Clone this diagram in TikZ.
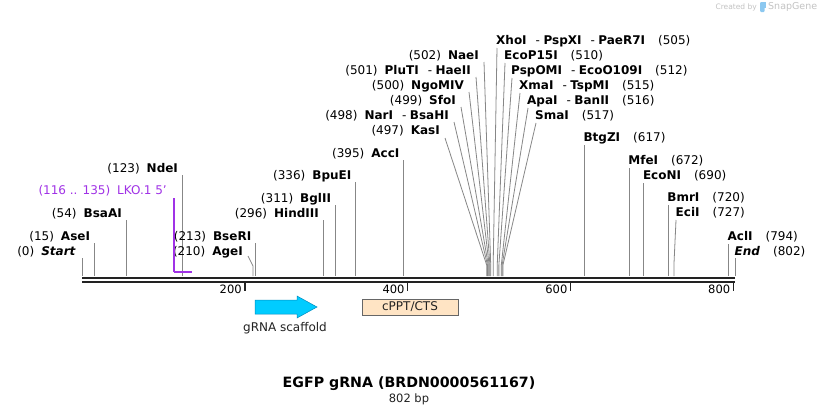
\documentclass[tikz,border=0pt]{standalone}
\usepackage{fontspec}
\setmainfont{DejaVu Sans}
\definecolor{sitegray}{RGB}{135,135,135}
\definecolor{bbone}{RGB}{34,34,34}
\definecolor{lkopurple}{RGB}{160,50,230}
\definecolor{scafcyan}{RGB}{0,204,255}
\definecolor{scafedge}{RGB}{0,140,190}
\definecolor{peach}{RGB}{255,228,196}
\definecolor{wmgray}{RGB}{195,195,195}
\definecolor{wmblue}{RGB}{140,200,240}
\newcommand\lblfont{\fontsize{12}{14}\selectfont}
\newcommand\lsepx{\hspace{9pt}-\hspace{3.5pt}}
\tikzset{
  siteline/.style={draw=sitegray,line width=0.8pt},
  lbl/.style={inner sep=0pt,font=\lblfont,text height=8.8pt,text depth=2.4pt},
  backbone/.style={draw=bbone,line width=2.4pt},
  tickmark/.style={draw=bbone,line width=1.6pt},
  ticklbl/.style={inner sep=0pt,font=\fontsize{11.5}{13}\selectfont,anchor=east}
}
\newcommand\lsite[5]{%
  \pgfmathsetmacro\sx{82+0.8142*#2}
  \coordinate (#1-b) at (\sx,276);
  \coordinate (#1-t) at (\sx,#3+6);
  \draw[siteline] (#1-t) -- (#1-b);
  \node[lbl,anchor=east] (#1-l) at (\sx-4,#3) {(#4)\hspace{7pt}\textbf{#5}};
}
\newcommand\rsite[5]{%
  \pgfmathsetmacro\sx{82+0.8142*#2}
  \coordinate (#1-b) at (\sx,276);
  \coordinate (#1-t) at (\sx,#3+7);
  \draw[siteline] (#1-t) -- (#1-b);
  \node[lbl,anchor=west] (#1-l) at (\sx-1,#3) {\textbf{#5}\hspace{13pt}(#4)};
}
\newcommand\lfan[7]{%
  \pgfmathsetmacro\sx{82+0.8142*#2}
  \coordinate (#1-t) at (#3,#4);
  \coordinate (#1-m) at (\sx,265);
  \coordinate (#1-b) at (\sx,276);
  \draw[siteline] (#1-t) -- (#1-m) -- (#1-b);
  \node[lbl,anchor=east] (#1-l) at (#3-5,#5) {(#6)\hspace{7pt}#7};
}
\newcommand\rfan[7]{%
  \pgfmathsetmacro\sx{82+0.8142*#2}
  \coordinate (#1-t) at (#3,#4);
  \coordinate (#1-m) at (\sx,265);
  \coordinate (#1-b) at (\sx,276);
  \draw[siteline] (#1-t) -- (#1-m) -- (#1-b);
  \node[lbl,anchor=west] (#1-l) at (#3-1,#5) {#7\hspace{13pt}(#6)};
}
\begin{document}
\begin{tikzpicture}[x=1pt,y=-1pt]
\useasboundingbox[fill=white] (0,0) rectangle (818,415);

% watermark
\node[inner sep=0pt,anchor=east,text=wmgray,font=\fontsize{7.5}{9}\selectfont] (wm1) at (757,7) {Created by};
\fill[wmblue,rounded corners=1pt] (760,2) rectangle (764.5,12);
\fill[wmblue] (762,2) rectangle (766,8);
\node[inner sep=0pt,anchor=west,text=wmgray,font=\fontsize{9.5}{11}\selectfont] (wm2) at (768,7) {SnapGene};

% backbone
\coordinate (bb0a) at (82,278);
\coordinate (bb1a) at (735,278);
\coordinate (bb0b) at (82,282);
\coordinate (bb1b) at (735,282);
\draw[backbone] (bb0a) -- (bb1a);
\draw[backbone] (bb0b) -- (bb1b);

% ticks
\foreach \t/\n in {200/t2,400/t4,600/t6,800/t8}{
  \pgfmathsetmacro\tx{82+0.8142*\t}
  \coordinate (\n-a) at (\tx,283);
  \coordinate (\n-b) at (\tx,291);
  \draw[tickmark] (\n-a) -- (\n-b);
  \node[ticklbl] (\n-l) at (\tx-3,289) {\t};
}

% straight sites, left side
\coordinate (start-b) at (82,276);
\coordinate (start-t) at (82,258);
\draw[siteline] (start-t) -- (start-b);
\node[lbl,anchor=east] (start-l) at (76,252) {(0)\hspace{7pt}\textbf{\textit{Start}}};
\lsite{ase}{15}{237}{15}{AseI}
\lsite{bsaa}{54}{214}{54}{BsaAI}
\lsite{nde}{123}{169}{123}{NdeI}
\lsite{bser}{213}{237}{213}{BseRI}
\lsite{hind}{296}{214}{296}{HindIII}
\lsite{bgl}{311}{199}{311}{BglII}
\lsite{bpue}{336}{176}{336}{BpuEI}
\lsite{acc}{395}{154}{395}{AccI}

% AgeI with bent line
\pgfmathsetmacro\agx{82+0.8142*210}
\coordinate (age-t) at (248,256);
\coordinate (age-m) at (\agx,266);
\coordinate (age-b) at (\agx,276);
\draw[siteline] (age-t) -- (age-m) -- (age-b);
\node[lbl,anchor=east] (age-l) at (243,252) {(210)\hspace{7pt}\textbf{AgeI}};

% right side straight sites
\rsite{btgz}{617}{138}{617}{BtgZI}
\rsite{mfe}{672}{161}{672}{MfeI}
\rsite{econ}{690}{176}{690}{EcoNI}
\rsite{bmr}{720}{198}{720}{BmrI}
\rsite{acl}{794}{237}{794}{AclI}
\pgfmathsetmacro\ecx{82+0.8142*727}
\coordinate (eci-t) at (676,220);
\coordinate (eci-m) at (\ecx,265);
\coordinate (eci-b) at (\ecx,276);
\draw[siteline] (eci-t) -- (eci-m) -- (eci-b);
\node[lbl,anchor=west] (eci-l) at (675.5,213) {\textbf{EciI}\hspace{13pt}(727)};
\coordinate (end-b) at (735,276);
\coordinate (end-t) at (735,258);
\draw[siteline] (end-t) -- (end-b);
\node[lbl,anchor=west] (end-l) at (734.5,252) {\textbf{\textit{End}}\hspace{13pt}(802)};

% fan, left
\lfan{kas}{497}{445}{138}{131}{497}{\textbf{KasI}}
\lfan{nar}{498}{454}{122}{116}{498}{\textbf{NarI}\lsepx\textbf{BsaHI}}
\lfan{sfo}{499}{461}{107}{101}{499}{\textbf{SfoI}}
\lfan{ngo}{500}{469}{92}{86}{500}{\textbf{NgoMIV}}
\lfan{plu}{501}{476}{77}{71}{501}{\textbf{PluTI}\lsepx\textbf{HaeII}}
\lfan{nae}{502}{484}{62}{56}{502}{\textbf{NaeI}}
% fan, right
\rfan{xho}{505}{497}{48}{41}{505}{\textbf{XhoI}\lsepx\textbf{PspXI}\lsepx\textbf{PaeR7I}}
\rfan{ecop}{510}{505}{63}{56}{510}{\textbf{EcoP15I}}
\rfan{pspo}{512}{512}{78}{71}{512}{\textbf{PspOMI}\lsepx\textbf{EcoO109I}}
\rfan{xma}{515}{520}{93}{86}{515}{\textbf{XmaI}\lsepx\textbf{TspMI}}
\rfan{apa}{516}{528}{108}{101}{516}{\textbf{ApaI}\lsepx\textbf{BanII}}
\rfan{sma}{517}{536}{123}{116}{517}{\textbf{SmaI}}

% LKO.1 5' primer feature
\coordinate (lko-t) at (174,198);
\coordinate (lko-c) at (174,272);
\coordinate (lko-e) at ({82+0.8142*135},272);
\draw[draw=lkopurple,line width=1.2pt] (lko-t) -- (lko-c);
\draw[draw=lkopurple,line width=2pt] (lko-c) -- (lko-e);
\node[lbl,anchor=east,text=lkopurple] (lko-l) at (167,191) {(116 .. 135)\hspace{7pt}LKO.1 5'};

% gRNA scaffold arrow
\draw[fill=scafcyan,draw=scafedge,line width=0.5pt] (255,300) -- (297,300) -- (297,296) -- (317,307) -- (297,318) -- (297,314) -- (255,314) -- cycle;
\node[inner sep=0pt,font=\fontsize{12}{14}\selectfont,text=bbone] (scaf-l) at (285,328) {gRNA scaffold};

% cPPT/CTS box
\node[draw=black!60,fill=peach,line width=0.6pt,minimum width=96pt,minimum height=16pt,inner sep=0pt,font=\fontsize{12}{14}\selectfont,text=bbone] (cppt) at (410,307) {cPPT/CTS};

% title
\node[inner sep=0pt,font=\bfseries\fontsize{14.2}{17}\selectfont] (title) at (409,384) {EGFP gRNA (BRDN0000561167)};
\node[inner sep=0pt,font=\fontsize{11.5}{13}\selectfont,text=bbone] (bp) at (409,399) {802 bp};
\end{tikzpicture}
\end{document}
